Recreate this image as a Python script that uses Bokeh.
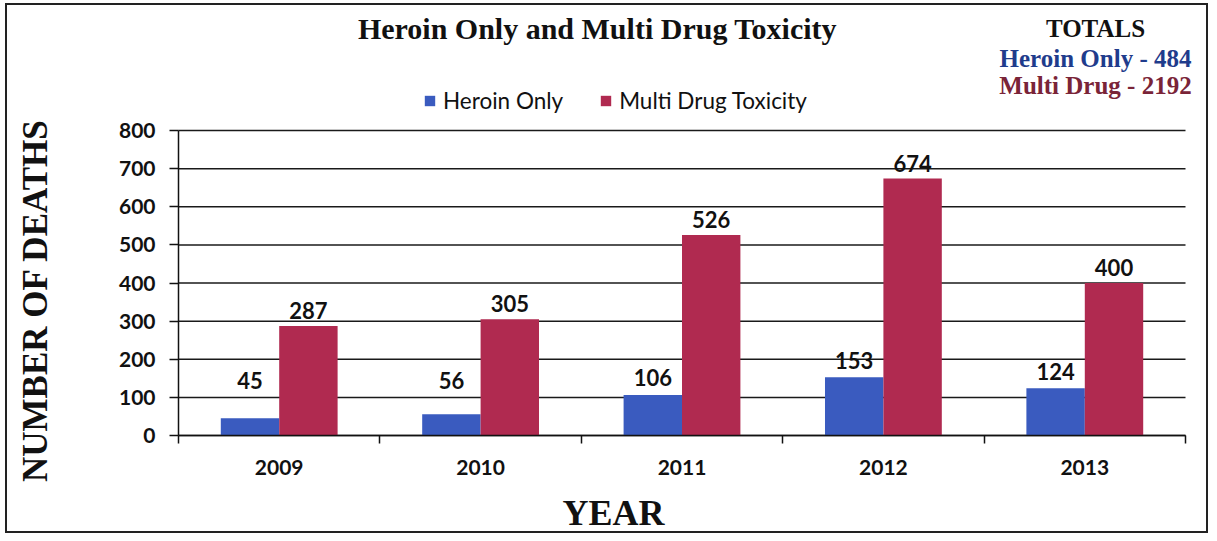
import numpy as np
from bokeh.plotting import figure
from bokeh.models import (ColumnDataSource, FixedTicker, Label, Legend, LegendItem,
                          Range1d)
from bokeh.core.properties import value
from bokeh.embed import file_html
from bokeh.resources import INLINE

# ---- data ----
years = ["2009", "2010", "2011", "2012", "2013"]
heroin_only = [45, 56, 106, 153, 124]
multi_drug = [287, 305, 526, 674, 400]
series_names = ["Heroin Only", "Multi Drug Toxicity"]
y_ticks = [0, 100, 200, 300, 400, 500, 600, 700, 800]
totals_heroin = sum(heroin_only)
totals_multi = sum(multi_drug)

BLUE = "#3a5bbf"
RED = "#b02a50"
NUM_FONT = "Lato"
SERIF = "Liberation Serif"

# ---- layout (pixels) ----
W, H = 1203, 530            # canvas size
OX, OY = 7, 5               # canvas origin on page
PL, PR = 178, 1185          # plot area left/right (page px)
PT, PB = 130, 435           # plot area top/bottom (page px)
n = len(years)
ymax = y_ticks[-1]
xs = (PR - PL) / n                  # px per category
ys = (PB - PT) / ymax               # px per unit
x0 = 0.5 - (PL - OX) / xs
x1 = 0.5 + (OX + W - PL) / xs
y1 = (PB - OY) / ys
y0 = -(OY + H - PB) / ys

def sx(px):
    return px - OX

def sy(py):
    return OY + H - py

pos = np.arange(1, n + 1)
bar_w = 0.29

src = ColumnDataSource(dict(
    x_h=pos - bar_w / 2, x_m=pos + bar_w / 2,
    heroin=heroin_only, multi=multi_drug,
    heroin_lbl=[str(v) for v in heroin_only],
    multi_lbl=[str(v) for v in multi_drug],
    heroin_lbl_y=[max(v, 100) + 45 for v in heroin_only],
))

p = figure(width=W, height=H, output_backend="svg", toolbar_location=None,
           x_range=Range1d(x0, x1), y_range=Range1d(y0, y1),
           min_border=0, min_border_left=0, min_border_right=0,
           min_border_top=0, min_border_bottom=0)
p.styles = {"border": "2px solid #222", "margin-left": "5px", "margin-top": "3px"}
p.outline_line_color = None
p.background_fill_color = "white"
p.border_fill_color = "white"
p.xgrid.visible = False
p.ygrid.visible = False

# grid lines (horizontal, only over plot area)
p.segment(x0=[0.5] * len(y_ticks), x1=[n + 0.5] * len(y_ticks), y0=y_ticks,
          y1=y_ticks, line_color="#1a1a1a", line_width=1.5)

r_h = p.vbar(x="x_h", top="heroin", width=bar_w, source=src, fill_color=BLUE,
             line_color=None)
r_m = p.vbar(x="x_m", top="multi", width=bar_w, source=src, fill_color=RED,
             line_color=None)

# data labels
p.text(x="x_h", y="heroin_lbl_y", text="heroin_lbl", source=src,
       text_align="center", text_baseline="middle",
       text_font=value(NUM_FONT), text_font_style="bold",
       text_font_size="22px", text_color="#111")
p.text(x="x_m", y="multi", text="multi_lbl", source=src,
       text_align="center", text_baseline="bottom", y_offset=-7,
       text_font=value(NUM_FONT), text_font_style="bold",
       text_font_size="22px", text_color="#111")

# y axis
ya = p.yaxis[0]
ya.fixed_location = 0.5
ya.bounds = (0, ymax)
ya.ticker = FixedTicker(ticks=y_ticks)
ya.axis_line_color = "#111"
ya.axis_line_width = 1.5
ya.major_tick_line_color = "#111"
ya.major_tick_line_width = 1.5
ya.major_tick_out = 9
ya.major_tick_in = 0
ya.minor_tick_line_color = None
ya.major_label_standoff = 14
ya.major_label_text_font = NUM_FONT
ya.major_label_text_font_style = "bold"
ya.major_label_text_font_size = "21px"
ya.major_label_text_color = "#111"

# x axis
xa = p.xaxis[0]
xa.fixed_location = 0
xa.bounds = (0.5, n + 0.5)
xa.ticker = FixedTicker(ticks=list(pos),
                        minor_ticks=list(np.arange(0.5, n + 1, 1.0)))
xa.major_label_overrides = {int(i): y for i, y in zip(pos, years)}
xa.axis_line_color = "#111"
xa.axis_line_width = 1.5
xa.major_tick_line_color = None
xa.minor_tick_line_color = "#111"
xa.minor_tick_line_width = 1.5
xa.minor_tick_out = 8
xa.minor_tick_in = 0
xa.major_label_standoff = 16
xa.major_label_text_font = NUM_FONT
xa.major_label_text_font_style = "bold"
xa.major_label_text_font_size = "21px"
xa.major_label_text_color = "#111"

# legend
legend = Legend(items=[LegendItem(label=series_names[0], renderers=[r_h]),
                       LegendItem(label=series_names[1], renderers=[r_m])],
                orientation="horizontal", location=(sx(423), sy(114)),
                glyph_width=13, glyph_height=13, label_standoff=7, spacing=36,
                padding=0, margin=0, border_line_color=None,
                background_fill_alpha=0,
                label_text_font=NUM_FONT, label_text_font_size="22.5px",
                label_text_color="#111")
p.add_layout(legend, "center")

# texts
def lab(text, x, y, size, color="#111", angle=0.0, align="center"):
    p.add_layout(Label(x=sx(x), y=sy(y), x_units="screen", y_units="screen",
                       text=text, text_font=SERIF, text_font_style="bold",
                       text_font_size=size, text_color=color, angle=angle,
                       text_align=align, text_baseline="middle"))

lab("Heroin Only and Multi Drug Toxicity", 597, 28, "30px")
lab("TOTALS", 1095, 28, "25px")
lab(f"Heroin Only - {totals_heroin}", 1095, 58, "25px", color="#1f3c8c")
lab(f"Multi Drug - {totals_multi}", 1095, 85, "25px", color="#7a2438")
lab("NUMBER OF DEATHS", 35, 300, "35px", angle=np.pi / 2)
lab("YEAR", 613, 512, "36px")

open("out.html", "w").write(file_html(p, INLINE))
